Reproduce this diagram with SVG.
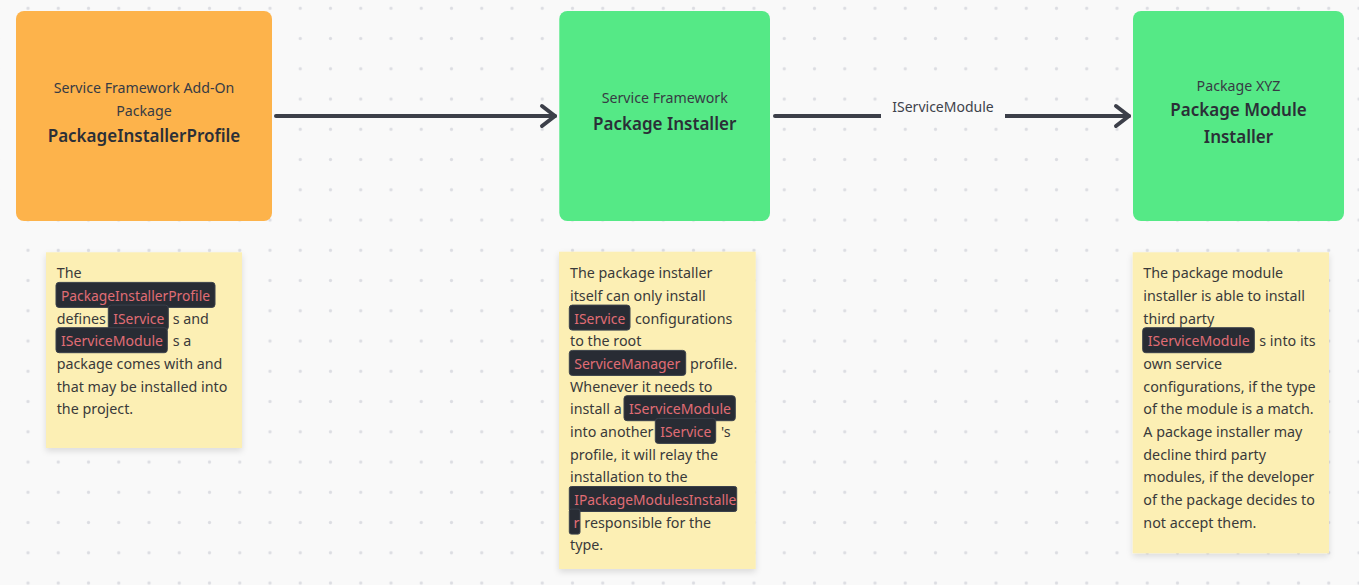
<svg xmlns="http://www.w3.org/2000/svg" width="1359" height="585" viewBox="0 0 1359 585">
<style>
text{font-family:"Noto Sans","Open Sans","Liberation Sans",sans-serif;}
.sub{font-size:14.2px;fill:#373b44;text-anchor:middle;}
.ttl{font-size:17px;font-weight:600;fill:#2b2f37;text-anchor:middle;}
.body{font-size:14.3px;fill:#3a3a3a;}
.code{font-size:14.3px;fill:#e06c75;}
.crect{fill:#282c34;stroke:#3a404a;stroke-width:1;}
.note{fill:#fcefb4;filter:url(#shadow);}
.conn{stroke:#3c3f49;stroke-width:4;stroke-linecap:round;stroke-linejoin:round;fill:none;}
.lbl{font-size:14px;fill:#3e424b;text-anchor:middle;}
</style>
<defs>
<pattern id="dots" patternUnits="userSpaceOnUse" x="-17.375" y="-6.825" width="30.25" height="30.25">
<circle cx="15.125" cy="15.125" r="1.6" fill="#dcdde2"/>
</pattern>
<filter id="shadow" x="-10%" y="-10%" width="120%" height="120%">
<feDropShadow dx="0" dy="3" stdDeviation="3" flood-color="#000" flood-opacity="0.12"/>
</filter>
</defs>
<rect x="0" y="0" width="1359" height="585" fill="#f9f9f9"/>
<rect x="0" y="0" width="1359" height="585" fill="url(#dots)"/>

<g id="connectors">
<path class="conn" d="M276,116 L555,116"/>
<path class="conn" d="M542,106 L555,116 L542,126"/>
<path class="conn" d="M775,116 L1129,116"/>
<path class="conn" d="M1116,106 L1129,116 L1116,126"/>
<rect x="881" y="95" width="124" height="30" fill="#f9f9f9"/>
<text class="lbl" x="943" y="111.5">IServiceModule</text>
</g>

<g id="node-profile">
<rect x="16" y="11" width="256" height="210" rx="8" fill="#fdb34b"/>
<text class="sub" x="144" y="93.3">Service Framework Add-On</text>
<text class="sub" x="144" y="115.7">Package</text>
<text class="ttl" x="144" y="141.7">PackageInstallerProfile</text>
</g>

<g id="node-installer">
<rect x="559.3" y="11" width="210.7" height="210" rx="8" fill="#55e986"/>
<text class="sub" x="664.7" y="103.3">Service Framework</text>
<text class="ttl" x="664.7" y="130">Package Installer</text>
</g>

<g id="node-module-installer">
<rect x="1133" y="11" width="211" height="210" rx="8" fill="#55e986"/>
<text class="sub" x="1238.5" y="90.7">Package XYZ</text>
<text class="ttl" x="1238.5" y="116">Package Module</text>
<text class="ttl" x="1238.5" y="143.3">Installer</text>
</g>

<g id="note-profile">
<rect class="note" x="46" y="252.3" width="196" height="195.7"/>
<text class="body" x="56.7" y="278.3">The</text>
<rect class="crect" x="56" y="282.4" width="159" height="25" rx="3"/>
<text class="code" x="61" y="301" textLength="149" lengthAdjust="spacingAndGlyphs">PackageInstallerProfile</text>
<text class="body" x="56.7" y="323.7">defines</text>
<rect class="crect" x="108.3" y="305.1" width="60" height="25" rx="3"/>
<text class="code" x="113.3" y="323.7" textLength="51" lengthAdjust="spacingAndGlyphs">IService</text>
<text class="body" x="172.7" y="323.7">s and</text>
<rect class="crect" x="56" y="327.7" width="111.3" height="25" rx="3"/>
<text class="code" x="61" y="346.3" textLength="102" lengthAdjust="spacingAndGlyphs">IServiceModule</text>
<text class="body" x="172.7" y="346.3">s a</text>
<text class="body" x="56.7" y="369">package comes with and</text>
<text class="body" x="56.7" y="391.7">that may be installed into</text>
<text class="body" x="56.7" y="414.3">the project.</text>
</g>

<g id="note-installer">
<rect class="note" x="559" y="251.7" width="196.7" height="317.3"/>
<text class="body" x="570" y="278.3">The package installer</text>
<text class="body" x="570" y="301">itself can only install</text>
<rect class="crect" x="569.3" y="305.1" width="60.7" height="25" rx="3"/>
<text class="code" x="574.3" y="323.7" textLength="51" lengthAdjust="spacingAndGlyphs">IService</text>
<text class="body" x="635" y="323.7">configurations</text>
<text class="body" x="570" y="346.3">to the root</text>
<rect class="crect" x="569.3" y="350.4" width="116.4" height="25" rx="3"/>
<text class="code" x="574.3" y="369" textLength="106" lengthAdjust="spacingAndGlyphs">ServiceManager</text>
<text class="body" x="690" y="369">profile.</text>
<text class="body" x="570" y="391.7">Whenever it needs to</text>
<text class="body" x="570" y="414.3">install a</text>
<rect class="crect" x="624" y="395.7" width="111.3" height="25" rx="3"/>
<text class="code" x="629" y="414.3" textLength="102" lengthAdjust="spacingAndGlyphs">IServiceModule</text>
<text class="body" x="570" y="437">into another</text>
<rect class="crect" x="655.3" y="418.4" width="60.4" height="25" rx="3"/>
<text class="code" x="660.3" y="437" textLength="51" lengthAdjust="spacingAndGlyphs">IService</text>
<text class="body" x="721" y="437">'s</text>
<text class="body" x="570" y="459.7">profile, it will relay the</text>
<text class="body" x="570" y="482.3">installation to the</text>
<rect class="crect" x="569.3" y="486.5" width="167.4" height="25" rx="2"/>
<text class="code" x="574.3" y="505" textLength="162" lengthAdjust="spacingAndGlyphs">IPackageModulesInstalle</text>
<rect class="crect" x="569.3" y="509.1" width="10.7" height="25" rx="2"/>
<text class="code" x="573.5" y="527.7">r</text>
<text class="body" x="584.3" y="527.7">responsible for the</text>
<text class="body" x="570" y="550.3">type.</text>
</g>

<g id="note-module-installer">
<rect class="note" x="1132.7" y="252.3" width="196.3" height="301"/>
<text class="body" x="1143.3" y="278.3">The package module</text>
<text class="body" x="1143.3" y="301">installer is able to install</text>
<text class="body" x="1143.3" y="323.7">third party</text>
<rect class="crect" x="1142.7" y="327.7" width="111.6" height="25" rx="3"/>
<text class="code" x="1147.7" y="346.3" textLength="102" lengthAdjust="spacingAndGlyphs">IServiceModule</text>
<text class="body" x="1259.3" y="346.3">s into its</text>
<text class="body" x="1143.3" y="369">own service</text>
<text class="body" x="1143.3" y="391.7">configurations, if the type</text>
<text class="body" x="1143.3" y="414.3">of the module is a match.</text>
<text class="body" x="1143.3" y="437">A package installer may</text>
<text class="body" x="1143.3" y="459.7">decline third party</text>
<text class="body" x="1143.3" y="482.3">modules, if the developer</text>
<text class="body" x="1143.3" y="505">of the package decides to</text>
<text class="body" x="1143.3" y="527.7">not accept them.</text>
</g>
</svg>
